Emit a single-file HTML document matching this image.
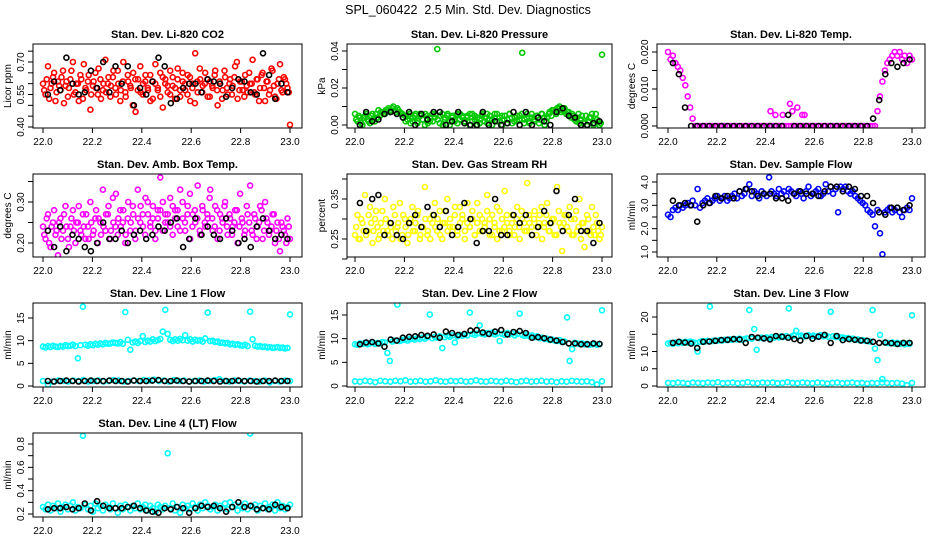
<!DOCTYPE html>
<html><head><meta charset="utf-8"><style>
html,body{margin:0;padding:0;background:#fff;}
svg{display:block;font-family:"Liberation Sans",Arial,sans-serif;}
</style></head><body>
<svg id="chart" width="936" height="540" viewBox="0 0 936 540" xmlns="http://www.w3.org/2000/svg">
<rect width="936" height="540" fill="#fff"/>
<text x="468" y="14" font-size="12.5" text-anchor="middle" style="white-space:pre">SPL_060422  2.5 Min. Std. Dev. Diagnostics</text>
</svg>
<script>
const xTicks = [22.0, 22.2, 22.4, 22.6, 22.8, 23.0];
const xTickLabels = ["22.0","22.2","22.4","22.6","22.8","23.0"];
const panelTitles = ["Stan. Dev. Li-820 CO2","Stan. Dev. Li-820 Pressure","Stan. Dev. Li-820 Temp.","Stan. Dev. Amb. Box Temp.","Stan. Dev. Gas Stream RH","Stan. Dev. Sample Flow","Stan. Dev. Line 1 Flow","Stan. Dev. Line 2 Flow","Stan. Dev. Line 3 Flow","Stan. Dev. Line 4 (LT) Flow"];
const yAxisTitles = ["Licor ppm","kPa","degrees C","degrees C","percent","ml/min","ml/min","ml/min","ml/min","ml/min"];

const co2Vals = [0.60,0.55,0.68,0.58,0.63,0.52,0.61,0.57,0.66,0.59,0.54,0.62,0.70,0.56,0.60,0.64,0.53,0.58,0.61,0.48,0.59,0.65,0.55,0.62,0.57,0.71,0.60,0.54,0.63,0.58,0.66,0.52,0.61,0.56,0.64,0.59,0.50,0.62,0.57,0.68,0.55,0.61,0.58,0.64,0.53,0.60,0.57,0.65,0.49,0.62,0.59,0.55,0.63,0.58,0.67,0.54,0.61,0.57,0.64,0.52,0.60,0.74,0.56,0.62,0.59,0.65,0.54,0.61,0.58,0.66,0.50,0.60,0.57,0.63,0.55,0.62,0.59,0.68,0.53,0.61,0.57,0.64,0.56,0.60,0.71,0.55,0.62,0.58,0.65,0.52,0.61,0.57,0.66,0.54,0.60,0.69,0.56,0.62,0.58,0.41];
const co2Vals2 = [0.57,0.62,0.53,0.60,0.65,0.56,0.59,0.63,0.51,0.61,0.58,0.66,0.55,0.60,0.52,0.62,0.69,0.57,0.64,0.55,0.61,0.58,0.67,0.53,0.60,0.56,0.63,0.59,0.66,0.55,0.60,0.57,0.70,0.54,0.61,0.58,0.65,0.47,0.62,0.56,0.60,0.64,0.57,0.52,0.61,0.69,0.58,0.54,0.63,0.60,0.56,0.66,0.59,0.53,0.62,0.57,0.65,0.60,0.55,0.63,0.58,0.51,0.61,0.67,0.56,0.60,0.62,0.54,0.59,0.64,0.57,0.61,0.53,0.66,0.58,0.60,0.55,0.63,0.70,0.57,0.61,0.54,0.59,0.65,0.60,0.56,0.62,0.52,0.64,0.58,0.61,0.55,0.67,0.59,0.53,0.62,0.57,0.63,0.60,0.56];
const co2Black = [0.55,0.61,0.57,0.72,0.60,0.55,0.56,0.66,0.58,0.70,0.56,0.68,0.60,0.68,0.50,0.58,0.55,0.61,0.72,0.68,0.51,0.53,0.58,0.60,0.60,0.56,0.62,0.61,0.60,0.54,0.58,0.62,0.61,0.56,0.55,0.74,0.64,0.53,0.60,0.56];
const presVals = [0.006,0.002,0.004,0.000,0.005,0.003,0.001,0.006,0.002,0.004,0.005,0.007,0.006,0.008,0.007,0.009,0.008,0.009,0.007,0.006,0.005,0.003,0.006,0.002,0.005,0.001,0.006,0.003,0.000,0.005,0.002,0.006,0.004,0.041,0.001,0.006,0.003,0.005,0.000,0.004,0.002,0.006,0.003,0.005,0.001,0.004,0.006,0.002,0.005,0.000,0.003,0.006,0.004,0.001,0.005,0.003,0.006,0.002,0.004,0.000,0.005,0.003,0.006,0.001,0.004,0.002,0.005,0.039,0.003,0.006,0.001,0.004,0.002,0.005,0.003,0.006,0.000,0.004,0.007,0.008,0.007,0.009,0.010,0.008,0.009,0.007,0.005,0.006,0.003,0.004,0.001,0.005,0.002,0.000,0.004,0.006,0.001,0.003,0.000,0.038];
const presVals2 = [0.003,0.005,0.001,0.004,0.006,0.002,0.005,0.003,0.006,0.008,0.007,0.006,0.008,0.009,0.008,0.010,0.007,0.008,0.006,0.004,0.002,0.005,0.001,0.004,0.006,0.002,0.005,0.003,0.006,0.001,0.004,0.002,0.006,0.003,0.005,0.000,0.004,0.006,0.002,0.005,0.003,0.001,0.006,0.004,0.002,0.005,0.000,0.006,0.003,0.004,0.001,0.005,0.002,0.006,0.003,0.000,0.004,0.006,0.002,0.005,0.003,0.001,0.006,0.004,0.002,0.005,0.003,0.006,0.001,0.004,0.002,0.006,0.003,0.005,0.001,0.006,0.004,0.002,0.006,0.005,0.008,0.006,0.009,0.007,0.008,0.006,0.007,0.004,0.005,0.002,0.006,0.003,0.001,0.005,0.002,0.004,0.000,0.006,0.002,0.001];
const presBlack = [0.000,0.007,0.002,0.003,0.006,0.007,0.006,0.004,0.007,0.000,0.006,0.003,0.007,0.007,0.000,0.002,0.007,0.001,0.000,0.000,0.007,0.000,0.002,0.000,0.001,0.007,0.000,0.007,0.000,0.004,0.002,0.000,0.007,0.009,0.005,0.004,0.000,0.000,0.001,0.002];
const tempVals = [0.020,0.018,0.019,0.017,0.016,0.015,0.013,0.011,0.008,0.005,0.002,0,0,0,0,0,0,0,0,0,0,0,0,0,0,0,0,0,0,0,0,0,0,0,0,0,0,0,0,0,0,0,0,0,0,0,0,0,0,0,0,0,0,0,0,0,0,0,0,0,0,0,0,0,0,0,0,0,0,0,0,0,0,0,0,0,0,0,0,0,0,0,0,0,0,0.004,0.008,0.012,0.015,0.017,0.018,0.019,0.020,0.019,0.020,0.018,0.019,0.017,0.019,0.018];
const tempBumpX = [22.42,22.44,22.47,22.50,22.51,22.53,22.55,22.56];
const tempBumpY = [0.004,0.003,0.003,0.006,0.004,0.005,0.003,0.003];
const tempBlack = [0.017,0.014,0.005,0,0,0,0,0,0,0,0,0,0,0,0,0,0,0,0,0.003,0,0,0,0,0,0,0,0,0,0,0,0,0,0.002,0.007,0.014,0.017,0.016,0.017,0.018];
const ambVals = [0.24,0.21,0.27,0.19,0.25,0.22,0.17,0.26,0.23,0.29,0.21,0.24,0.28,0.20,0.25,0.23,0.27,0.21,0.24,0.30,0.22,0.26,0.20,0.25,0.33,0.23,0.27,0.21,0.31,0.24,0.22,0.28,0.25,0.20,0.26,0.23,0.29,0.21,0.33,0.25,0.27,0.22,0.30,0.24,0.26,0.21,0.28,0.36,0.23,0.27,0.25,0.31,0.22,0.28,0.24,0.33,0.26,0.23,0.29,0.21,0.27,0.25,0.34,0.22,0.28,0.24,0.26,0.33,0.23,0.29,0.21,0.27,0.25,0.30,0.22,0.26,0.24,0.28,0.20,0.32,0.25,0.23,0.27,0.34,0.22,0.26,0.24,0.29,0.21,0.30,0.25,0.23,0.27,0.20,0.25,0.18,0.24,0.22,0.26,0.21];
const ambVals2 = [0.22,0.26,0.20,0.24,0.28,0.23,0.25,0.21,0.27,0.24,0.19,0.26,0.23,0.25,0.29,0.22,0.24,0.27,0.21,0.25,0.23,0.28,0.26,0.22,0.24,0.27,0.29,0.23,0.25,0.32,0.26,0.24,0.28,0.22,0.30,0.25,0.27,0.23,0.26,0.29,0.24,0.31,0.27,0.25,0.29,0.23,0.26,0.28,0.30,0.25,0.27,0.24,0.29,0.26,0.28,0.23,0.30,0.25,0.27,0.32,0.24,0.28,0.26,0.23,0.29,0.25,0.27,0.31,0.26,0.24,0.28,0.23,0.26,0.29,0.24,0.27,0.22,0.25,0.28,0.24,0.26,0.22,0.29,0.25,0.23,0.27,0.21,0.25,0.28,0.23,0.26,0.22,0.24,0.27,0.23,0.21,0.25,0.23,0.20,0.24];
const ambBlack = [0.23,0.19,0.24,0.18,0.22,0.21,0.19,0.18,0.20,0.25,0.21,0.21,0.23,0.20,0.22,0.23,0.21,0.22,0.24,0.23,0.25,0.26,0.19,0.21,0.26,0.22,0.24,0.22,0.21,0.26,0.23,0.20,0.21,0.19,0.24,0.26,0.23,0.21,0.22,0.21];
const rhVals = [0.26,0.31,0.25,0.29,0.36,0.27,0.33,0.24,0.30,0.28,0.26,0.32,0.35,0.27,0.29,0.25,0.31,0.28,0.34,0.26,0.30,0.24,0.29,0.33,0.27,0.31,0.25,0.28,0.38,0.26,0.30,0.29,0.34,0.27,0.32,0.25,0.29,0.35,0.28,0.26,0.31,0.27,0.33,0.30,0.25,0.29,0.28,0.32,0.26,0.34,0.27,0.30,0.29,0.36,0.26,0.31,0.28,0.25,0.32,0.27,0.37,0.29,0.26,0.31,0.28,0.33,0.25,0.30,0.27,0.39,0.29,0.26,0.32,0.28,0.31,0.25,0.29,0.34,0.27,0.30,0.26,0.38,0.29,0.22,0.31,0.28,0.33,0.26,0.30,0.27,0.35,0.29,0.23,0.31,0.27,0.33,0.26,0.29,0.25,0.28];
const rhVals2 = [0.28,0.25,0.30,0.27,0.26,0.31,0.29,0.27,0.32,0.25,0.29,0.27,0.30,0.26,0.28,0.33,0.27,0.29,0.25,0.31,0.28,0.26,0.30,0.27,0.29,0.32,0.26,0.28,0.30,0.27,0.25,0.31,0.28,0.30,0.26,0.29,0.32,0.27,0.30,0.28,0.33,0.26,0.29,0.31,0.27,0.34,0.28,0.30,0.26,0.29,0.31,0.27,0.28,0.32,0.30,0.26,0.29,0.33,0.27,0.30,0.28,0.31,0.27,0.29,0.26,0.30,0.28,0.32,0.29,0.27,0.31,0.28,0.30,0.26,0.29,0.33,0.28,0.31,0.27,0.29,0.30,0.26,0.32,0.28,0.29,0.31,0.27,0.30,0.26,0.32,0.28,0.25,0.29,0.27,0.30,0.26,0.28,0.31,0.27,0.26];
const rhBlack = [0.34,0.27,0.35,0.36,0.26,0.29,0.26,0.25,0.29,0.31,0.28,0.33,0.31,0.28,0.32,0.26,0.28,0.34,0.30,0.24,0.27,0.27,0.35,0.26,0.26,0.31,0.29,0.31,0.26,0.28,0.32,0.29,0.37,0.27,0.31,0.35,0.27,0.27,0.24,0.29];
const sflowVals = [2.6,2.5,2.8,2.9,2.8,3.0,2.9,3.0,3.1,3.0,3.2,3.0,3.7,2.9,3.1,3.2,3.3,3.1,3.2,3.3,3.4,3.2,3.3,3.4,3.2,3.3,3.4,3.5,3.3,3.6,3.4,3.5,3.7,3.9,3.4,3.6,3.5,3.3,3.6,3.5,3.4,4.2,3.6,3.5,3.4,3.7,3.5,3.6,3.4,3.7,3.6,3.5,3.4,3.6,3.5,3.3,3.6,3.8,3.4,3.5,3.6,3.7,3.4,3.5,3.9,3.6,3.8,3.5,3.7,2.7,3.8,3.7,3.8,3.6,3.5,3.6,3.4,3.3,3.2,3.1,3.0,2.8,2.7,2.6,2.1,2.8,1.8,0.9,2.7,2.8,2.9,2.7,2.8,2.9,2.7,2.5,2.8,2.9,2.8,3.3];
const sflowBlack = [3.2,3.0,3.1,3.0,2.3,3.0,3.1,3.4,3.3,3.4,3.3,3.6,3.7,3.6,3.4,3.5,3.5,3.3,3.3,3.2,3.5,3.6,3.5,3.5,3.4,3.6,3.8,3.8,3.6,3.8,3.7,3.4,3.4,3.1,2.7,2.6,2.9,2.9,2.8,3.0];
const line1Vals = [8.7,8.5,8.8,8.6,8.9,8.7,8.6,8.8,8.7,9.0,8.8,8.9,9.1,8.8,6.1,9.0,17.5,9.1,8.9,9.2,9.0,9.3,9.1,9.4,9.2,9.5,9.3,9.4,9.6,9.5,9.4,9.7,9.3,16.3,10.2,8.0,9.6,9.8,9.5,9.9,11.0,9.7,10.0,9.8,10.3,9.9,10.1,10.4,12.0,16.8,11.5,10.2,9.9,10.3,10.0,10.4,10.1,11.2,10.0,10.3,9.8,10.2,10.0,10.1,9.8,10.5,16.2,9.9,10.0,9.7,9.8,9.5,9.6,9.4,9.5,9.2,9.3,9.1,9.2,9.0,8.9,9.1,8.8,16.4,10.3,8.9,8.7,8.8,8.6,8.7,8.5,8.6,8.4,8.5,8.6,8.4,8.5,8.3,8.4,15.8];
const line1Low = [1.1,0.3,1.0,1.2,1.1,1.0,1.2,1.1,1.3,1.0,1.1,1.2,1.0,1.1,1.3,1.2,1.0,1.1,1.2,1.1,1.3,1.2,1.4,1.1,1.2,1.0,1.3,1.1,1.2,1.0,1.1,1.2,1.0,1.1,1.3,1.5,1.1,1.0,1.2,1.1,1.0,1.2,1.1,1.0,1.2,0.8,1.1,1.0,1.2,1.1];
const line1Black = [1.1,1.0,1.1,1.2,1.1,1.0,1.1,1.2,1.1,1.1,1.2,1.1,1.1,1.0,1.2,1.1,1.1,1.2,1.3,1.1,1.1,1.2,1.1,1.0,1.1,1.1,1.2,1.1,1.0,1.1,1.1,1.2,1.1,1.1,1.0,1.1,1.1,1.2,1.1,1.1];
const line2Vals = [8.8,8.7,9.0,8.9,9.1,8.8,9.0,9.2,8.9,9.1,9.0,9.3,9.2,7.0,5.3,9.4,9.6,17.2,9.5,9.7,9.8,9.6,9.9,10.0,9.8,10.1,9.9,10.2,10.0,10.3,15.1,10.1,10.4,10.2,10.5,8.0,10.3,10.6,10.4,10.7,9.2,10.5,10.8,10.6,10.9,10.7,15.5,11.0,10.8,11.1,12.8,11.0,10.9,11.2,11.0,11.3,10.9,11.1,9.5,11.0,10.8,11.2,10.9,11.1,10.7,11.0,15.3,10.8,10.6,10.9,10.5,10.7,10.3,10.5,10.1,10.2,9.9,10.0,9.7,9.8,9.6,9.5,9.7,9.3,9.4,14.5,5.3,7.8,9.1,9.0,8.9,9.0,8.8,8.9,8.7,8.8,8.9,8.7,8.8,16.0];
const line2Low = [1.0,0.9,1.1,1.0,0.8,1.1,1.0,0.9,1.1,1.0,1.2,0.9,1.0,1.1,0.9,1.0,1.2,1.0,0.9,1.1,1.0,1.1,0.9,1.0,1.2,1.0,0.9,1.1,1.0,0.9,1.1,1.0,0.8,1.0,1.1,0.9,1.0,1.1,0.9,1.0,0.8,1.0,0.9,1.1,1.0,0.9,1.0,0.8,0.3,1.0];
const line2Black = [8.8,9.2,9.3,9.0,8.3,9.8,9.6,10.2,10.4,10.5,10.8,10.6,10.9,10.2,11.5,11.2,10.8,11.0,11.7,11.8,11.3,11.0,11.5,11.8,10.9,11.4,11.6,11.2,10.2,10.3,10.1,9.8,9.6,9.3,9.0,9.0,8.8,8.8,9.0,8.9];
const line3Vals = [12.3,12.5,12.2,12.6,12.4,12.7,12.5,12.8,12.6,12.9,12.7,12.5,10.0,12.8,13.0,12.9,13.1,23.0,13.0,13.2,13.1,13.3,13.2,13.4,13.3,13.5,13.4,13.6,13.5,13.7,13.4,13.6,13.8,22.0,13.7,16.5,10.5,13.9,14.0,13.8,14.1,13.9,14.2,14.0,14.3,14.1,14.4,14.2,14.5,22.5,14.3,14.6,16.0,14.4,14.6,14.3,14.5,14.7,14.4,14.6,14.3,14.5,14.7,14.4,14.6,14.3,21.5,14.4,14.2,14.3,14.0,14.1,13.8,13.9,13.6,13.7,13.4,13.5,13.2,13.3,13.1,13.0,12.9,22.0,10.8,7.5,14.8,2.0,12.6,12.5,12.4,12.6,12.3,12.5,12.2,12.4,12.1,12.3,12.2,20.5];
const line3Low = [0.9,0.8,1.0,0.9,0.7,1.0,0.9,0.8,1.0,0.9,1.1,0.8,0.9,1.0,0.8,0.9,1.1,0.9,0.8,1.0,0.9,1.0,0.8,0.9,1.1,0.9,0.8,1.0,0.9,0.8,1.0,0.9,0.7,0.9,1.0,0.8,0.9,1.0,0.8,0.9,0.7,0.9,0.8,1.0,0.9,0.8,0.9,0.7,0.2,0.9];
const line3Black = [12.5,12.8,12.6,12.3,11.0,12.8,12.9,13.1,13.3,13.4,13.6,13.5,12.5,14.2,14.0,13.8,13.5,14.5,14.3,14.0,13.6,13.2,14.5,13.7,14.3,14.8,12.5,14.5,13.3,13.6,13.4,13.2,13.1,12.8,12.5,12.6,12.4,12.2,12.5,12.5];
const line4Vals = [0.26,0.24,0.28,0.23,0.27,0.25,0.29,0.22,0.26,0.28,0.24,0.27,0.30,0.23,0.26,0.25,0.87,0.28,0.24,0.27,0.22,0.29,0.25,0.27,0.23,0.28,0.26,0.24,0.29,0.25,0.21,0.27,0.24,0.28,0.26,0.23,0.27,0.25,0.29,0.24,0.26,0.28,0.23,0.27,0.25,0.22,0.28,0.26,0.24,0.27,0.72,0.25,0.29,0.23,0.26,0.21,0.28,0.25,0.27,0.24,0.29,0.26,0.23,0.28,0.25,0.30,0.27,0.24,0.26,0.28,0.23,0.27,0.25,0.29,0.24,0.30,0.26,0.28,0.23,0.27,0.25,0.29,0.24,0.89,0.26,0.28,0.23,0.27,0.25,0.29,0.24,0.26,0.28,0.23,0.30,0.25,0.27,0.24,0.26,0.28];
const line4Black = [0.24,0.25,0.25,0.26,0.24,0.25,0.29,0.23,0.31,0.27,0.25,0.25,0.25,0.26,0.27,0.25,0.23,0.22,0.21,0.25,0.24,0.26,0.25,0.21,0.25,0.27,0.26,0.27,0.25,0.22,0.26,0.30,0.26,0.27,0.24,0.25,0.24,0.28,0.26,0.25];

// layout (not data)
const cols = [{bx0:33,bx1:302,x22:43,x23:290},{bx0:347,bx1:612,x22:355,x23:602},{bx0:657,bx1:925,x22:668,x23:912}];
const rows = [{by0:44,by1:128},{by0:174,by1:257},{by0:303,by1:387},{by0:433,by1:517}];
const panels = [
 {r:0,c:0,col:"#ff0000",main:co2Vals,main2:co2Vals2,low:null,blk:co2Black,v0:0.40,p0:127,v1:0.70,p1:62,ticks:[0.40,0.45,0.50,0.55,0.60,0.65,0.70,0.75],labs:[[0.40,"0.40"],[0.55,"0.55"],[0.70,"0.70"]]},
 {r:0,c:1,col:"#00c800",main:presVals,main2:presVals2,low:null,blk:presBlack,v0:0,p0:125,v1:0.04,p1:51,ticks:[0,0.01,0.02,0.03,0.04],labs:[[0,"0.00"],[0.02,"0.02"],[0.04,"0.04"]]},
 {r:0,c:2,col:"#ff00ff",main:tempVals,main2:null,low:null,blk:tempBlack,v0:0,p0:126,v1:0.02,p1:52,ticks:[0,0.005,0.01,0.015,0.02],labs:[[0,"0.000"],[0.01,"0.010"],[0.02,"0.020"]],extraX:tempBumpX,extraY:tempBumpY},
 {r:1,c:0,col:"#ff00ff",main:ambVals,main2:ambVals2,low:null,blk:ambBlack,v0:0.20,p0:243,v1:0.30,p1:202,ticks:[0.20,0.25,0.30,0.35],labs:[[0.20,"0.20"],[0.30,"0.30"]]},
 {r:1,c:1,col:"#ffff00",main:rhVals,main2:rhVals2,low:null,blk:rhBlack,v0:0.25,p0:239,v1:0.35,p1:199,ticks:[0.20,0.25,0.30,0.35,0.40],labs:[[0.25,"0.25"],[0.35,"0.35"]]},
 {r:1,c:2,col:"#0000ff",main:sflowVals,main2:null,low:null,blk:sflowBlack,v0:1,p0:252,v1:4,p1:182,ticks:[1,1.5,2,2.5,3,3.5,4],labs:[[1,"1.0"],[2,"2.0"],[3,"3.0"],[4,"4.0"]]},
 {r:2,c:0,col:"#00ffff",main:line1Vals,main2:null,low:line1Low,blk:line1Black,v0:0,p0:386,v1:15,p1:318,ticks:[0,5,10,15],labs:[[0,"0"],[5,"5"],[10,"10"],[15,"15"]]},
 {r:2,c:1,col:"#00ffff",main:line2Vals,main2:null,low:line2Low,blk:line2Black,v0:0,p0:386,v1:15,p1:315,ticks:[0,5,10,15],labs:[[0,"0"],[5,"5"],[10,"10"],[15,"15"]]},
 {r:2,c:2,col:"#00ffff",main:line3Vals,main2:null,low:line3Low,blk:line3Black,v0:0,p0:386,v1:20,p1:317,ticks:[0,5,10,15,20],labs:[[0,"0"],[5,"5"],[10,"10"],[20,"20"]]},
 {r:3,c:0,col:"#00ffff",main:line4Vals,main2:null,low:null,blk:line4Black,v0:0.2,p0:514,v1:0.8,p1:444,ticks:[0.2,0.3,0.4,0.5,0.6,0.7,0.8],labs:[[0.2,"0.2"],[0.4,"0.4"],[0.6,"0.6"],[0.8,"0.8"]]}
];

const svg = document.getElementById('chart');
const NS = "http://www.w3.org/2000/svg";
function mk(tag, attrs, parent){
  const e = document.createElementNS(NS, tag);
  for (const k in attrs) e.setAttribute(k, attrs[k]);
  parent.appendChild(e);
  return e;
}
panels.forEach((p, pi) => {
  const C = cols[p.c], R = rows[p.r];
  const xs = v => C.x22 + (v - 22) * (C.x23 - C.x22);
  const ys = v => p.p0 + (v - p.v0) * (p.p1 - p.p0) / (p.v1 - p.v0);
  const g = mk('g', {}, svg);
  
  
  const t = mk('text', {x:(C.bx0 + C.bx1) / 2, y:R.by0 - 6, 'font-size':11, 'font-weight':'bold', 'text-anchor':'middle'}, g);
  t.textContent = panelTitles[pi];
  
  
  const cy = (R.by0 + R.by1) / 2;
  const yt = mk('text', {x:C.bx0 - 22, y:cy, 'font-size':10, 'text-anchor':'middle', transform:'rotate(-90 ' + (C.bx0 - 22) + ' ' + cy + ')'}, g);
  yt.textContent = yAxisTitles[pi];
  
  
  const clip = mk('clipPath', {id:'clip' + pi}, g);
  mk('rect', {x:C.bx0, y:R.by0, width:C.bx1 - C.bx0, height:R.by1 - R.by0}, clip);
  const pts = mk('g', {'clip-path':'url(#clip' + pi + ')', fill:'none', 'stroke-width':1.6}, g);
  
  
  function dot(x, y, col){
    const c = mk('circle', {cx:x.toFixed(1), cy:y.toFixed(1), r:2.5, stroke:col}, pts);
    
    
  }
  const n = p.main.length;
  p.main.forEach((v, i) => dot(xs(22 + i / (n - 1)), ys(v), p.col));
  if (p.main2) { const m2 = p.main2.length; p.main2.forEach((v, i) => dot(xs(22.005 + 0.99 * i / (m2 - 1)), ys(v), p.col)); }
  if (p.low) { const m = p.low.length; p.low.forEach((v, i) => dot(xs(22 + i / (m - 1)), ys(v), p.col)); }
  if (p.extraX) p.extraX.forEach((xv, i) => dot(xs(xv), ys(p.extraY[i]), p.col));
  const nb = p.blk.length;
  p.blk.forEach((v, i) => dot(xs(22.02 + 0.97 * i / (nb - 1)), ys(v), '#000'));
  const box = mk('rect', {x:C.bx0, y:R.by0, width:C.bx1 - C.bx0, height:R.by1 - R.by0, fill:'none', stroke:'#000', 'stroke-width':1}, g);
  
  
  const xa = mk('g', {stroke:'#000', 'stroke-width':1}, g);
  
  
  mk('line', {x1:xs(xTicks[0]), x2:xs(xTicks[xTicks.length - 1]), y1:R.by1, y2:R.by1}, xa);
  xTicks.forEach((v, i) => {
    mk('line', {x1:xs(v), x2:xs(v), y1:R.by1, y2:R.by1 + 5}, xa);
    const l = mk('text', {x:xs(v), y:R.by1 + 17, 'font-size':10, 'text-anchor':'middle', stroke:'none'}, xa);
    l.textContent = xTickLabels[i];
    
    
  });
  const ya = mk('g', {stroke:'#000', 'stroke-width':1}, g);
  
  
  mk('line', {x1:C.bx0, x2:C.bx0, y1:ys(p.ticks[0]), y2:ys(p.ticks[p.ticks.length - 1])}, ya);
  p.ticks.forEach(v => mk('line', {x1:C.bx0 - 5, x2:C.bx0, y1:ys(v), y2:ys(v)}, ya));
  p.labs.forEach(([v, s]) => {
    const lx = C.bx0 - 9, ly = ys(v);
    const l = mk('text', {x:lx, y:ly, 'font-size':10, 'text-anchor':'middle', stroke:'none', transform:'rotate(-90 ' + lx + ' ' + ly + ')'}, ya);
    l.textContent = s;
    
    
  });
});
</script>
</body></html>
